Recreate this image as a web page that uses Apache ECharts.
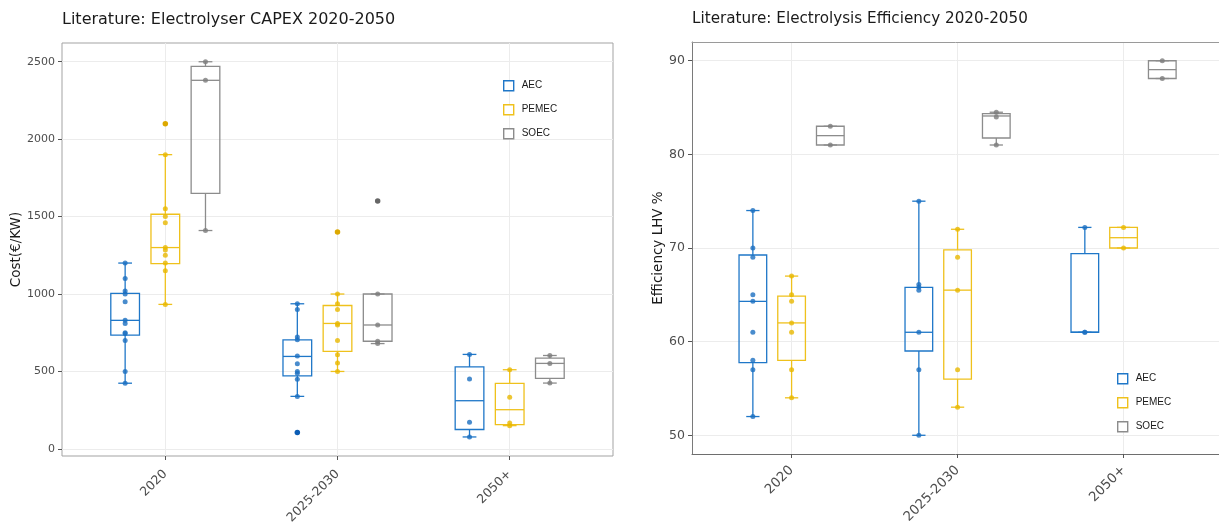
<!DOCTYPE html>
<html>
<head>
<meta charset="utf-8">
<script src="https://cdn.jsdelivr.net/npm/echarts@6/dist/echarts.min.js"></script>
<style>
  html, body { margin: 0; padding: 0; background: #fff; }
  #chart { width: 1219px; height: 528px; }
</style>
</head>
<body>
<div id="chart"></div>
<script>
// Period categories shared by both panels (placed at 1, 2, 3 on the x axis)
const categories = ['2020', '2025-2030', '2050+'];
const techs = ['AEC', 'PEMEC', 'SOEC'];

// CAPEX (€/kW) box statistics per period: [min, Q1, median, Q3, max]
const capexAECBox   = [[424, 735, 830, 1004, 1200], [339, 472, 597, 704, 937], [77, 125, 311, 529, 610]];
const capexPEMECBox = [[933, 1196, 1300, 1515, 1900], [500, 629, 810, 926, 1000], [150, 156, 253, 423, 511]];
const capexSOECBox  = [[1410, 1650, 2380, 2470, 2500], [680, 695, 800, 1000, 1000], [425, 455, 552, 586, 603]];

// CAPEX literature values per period
const capexAECPts   = [[1200, 1100, 1020, 1000, 950, 830, 810, 750, 745, 700, 500, 424], [937, 900, 722, 704, 599, 549, 500, 489, 450, 339], [610, 451, 172, 77]];
const capexPEMECPts = [[1900, 1550, 1500, 1460, 1300, 1285, 1250, 1200, 1150, 933], [1000, 937, 900, 810, 800, 700, 608, 554, 500], [511, 334, 167, 150]];
const capexSOECPts  = [[2500, 2380, 1410], [1000, 800, 695, 680], [603, 552, 425]];

// CAPEX outliers per period
const capexAECOut   = [[], [106], []];
const capexPEMECOut = [[2100], [1400], []];
const capexSOECOut  = [[], [1600], []];

// Efficiency (LHV %) box statistics per period: [min, Q1, median, Q3, max]
const effAECBox   = [[52, 57.75, 64.3, 69.25, 74], [50, 59, 61, 65.8, 75], [61, 61, 61, 69.4, 72.2]];
const effPEMECBox = [[54, 58, 62, 64.85, 67], [53, 56, 65.5, 69.8, 72], [70, 70, 71.1, 72.2, 72.2]];
const effSOECBox  = [[81, 81, 82, 83, 83], [81, 81.75, 84.1, 84.35, 84.5], [88.1, 88.1, 89.05, 90, 90]];

// Efficiency literature values per period
const effAECPts   = [[74, 70, 69, 65, 64.3, 61, 58, 57, 52], [75, 66.1, 65.8, 65.5, 61, 57, 50], [72.2, 61, 61]];
const effPEMECPts = [[67, 65, 64.3, 62, 61, 57, 54], [72, 69, 65.5, 57, 53], [72.2, 70]];
const effSOECPts  = [[83, 81], [84.5, 84, 81], [90, 88.1]];

// Axis tick values
const capexTicks = [0, 500, 1000, 1500, 2000, 2500];
const effTicks = [50, 60, 70, 80, 90];

// ---- styling ----
const lineColor  = { AEC: '#1F77C8', PEMEC: '#EFC11C', SOEC: '#8C8C8C' };
const pointColor = { AEC: '#1B6FC0', PEMEC: '#E8B800', SOEC: '#7D7D7D' };
const outColor   = { AEC: '#0B5DB5', PEMEC: '#DCA800', SOEC: '#666666' };
const dodge = { AEC: -0.2333, PEMEC: 0, SOEC: 0.2333 };
const boxHalf = 0.0833;
const capHalf = 0.04;
const boxLW = 1.3;
const tickFont = 'DejaVu Sans';

function boxRenderer(tech) {
  const off = dodge[tech];
  const col = lineColor[tech];
  return function (params, api) {
    const c = api.value(0) + off;
    const mn = api.value(1), q1 = api.value(2), md = api.value(3), q3 = api.value(4), mx = api.value(5);
    const tl = api.coord([c - boxHalf, q3]);
    const br = api.coord([c + boxHalf, q1]);
    const mL = api.coord([c - boxHalf, md]);
    const mR = api.coord([c + boxHalf, md]);
    const wTop = api.coord([c, mx]);
    const wQ3 = api.coord([c, q3]);
    const wQ1 = api.coord([c, q1]);
    const wBot = api.coord([c, mn]);
    const capTL = api.coord([c - capHalf, mx]), capTR = api.coord([c + capHalf, mx]);
    const capBL = api.coord([c - capHalf, mn]), capBR = api.coord([c + capHalf, mn]);
    const st = { stroke: col, lineWidth: boxLW, fill: null };
    const line = (a, b) => ({ type: 'line', shape: { x1: a[0], y1: a[1], x2: b[0], y2: b[1] }, style: st });
    return {
      type: 'group',
      children: [
        line(wTop, wQ3),
        line(wQ1, wBot),
        line(capTL, capTR),
        line(capBL, capBR),
        { type: 'rect', shape: { x: tl[0], y: tl[1], width: br[0] - tl[0], height: br[1] - tl[1] },
          style: { stroke: col, lineWidth: boxLW, fill: 'rgba(255,255,255,0)' } },
        line(mL, mR)
      ]
    };
  };
}

function boxSeries(tech, stats, gi) {
  return {
    type: 'custom', name: tech, xAxisIndex: gi, yAxisIndex: gi, z: 2,
    renderItem: boxRenderer(tech),
    encode: { x: 0, y: [1, 2, 3, 4, 5] },
    data: stats.map((s, i) => [i + 1].concat(s)),
    silent: true
  };
}

function pointSeries(tech, pts, gi, outlier) {
  const data = [];
  pts.forEach((arr, i) => arr.forEach(v => data.push([i + 1 + dodge[tech], v])));
  return {
    type: 'scatter', name: tech, xAxisIndex: gi, yAxisIndex: gi, z: outlier ? 4 : 3,
    symbol: 'circle', symbolSize: outlier ? 5.5 : 5,
    itemStyle: { color: outlier ? outColor[tech] : pointColor[tech], opacity: outlier ? 1 : 0.8 },
    data: data, silent: true
  };
}

function legendFor(left, top) {
  return {
    orient: 'vertical', left: left, top: top, padding: 0,
    itemWidth: 10, itemHeight: 10, itemGap: 12.6,
    selectedMode: false,
    textStyle: { fontFamily: 'Liberation Sans', fontSize: 10, color: '#1a1a1a', lineHeight: 10, padding: [0, 0, 0, 3] },
    data: techs.map(t => ({
      name: t, icon: 'rect',
      itemStyle: { color: '#ffffff', borderColor: lineColor[t], borderWidth: 1.4 }
    }))
  };
}

function xAxisFor(gi, max, fontSize, margin, lineCol) {
  return {
    type: 'value', gridIndex: gi, min: 0.4, max: max,
    axisLine: { show: !!lineCol, onZero: false, lineStyle: { color: lineCol || '#000', width: 1 } },
    axisTick: { show: true, length: 4, lineStyle: { color: '#555' }, customValues: [1, 2, 3] },
    axisLabel: {
      customValues: [1, 2, 3], rotate: 45, margin: margin,
      fontFamily: tickFont, fontSize: fontSize, color: '#4d4d4d',
      formatter: v => categories[Math.round(v) - 1]
    },
    splitLine: { show: true, lineStyle: { color: '#ececec', width: 1 } }
  };
}

function yAxisFor(gi, min, max, ticks, name, nameGap, fontSize, nameSize, lineCol) {
  return {
    type: 'value', gridIndex: gi, min: min, max: max,
    name: name, nameLocation: 'middle', nameRotate: 90, nameGap: nameGap,
    nameTextStyle: { fontFamily: tickFont, fontSize: nameSize, color: '#1a1a1a' },
    axisLine: { show: !!lineCol, onZero: false, lineStyle: { color: lineCol || '#000', width: 1 } },
    axisTick: { show: true, length: 4, lineStyle: { color: '#555' }, customValues: ticks },
    axisLabel: { customValues: ticks, margin: 7, fontFamily: tickFont, fontSize: fontSize, color: '#4d4d4d',
      formatter: v => String(v) },
    splitLine: { show: true, lineStyle: { color: '#ececec', width: 1 } }
  };
}

const chart = echarts.init(document.getElementById('chart'), null, { renderer: 'canvas' });

const series = [
  boxSeries('AEC', capexAECBox, 0), boxSeries('PEMEC', capexPEMECBox, 0), boxSeries('SOEC', capexSOECBox, 0),
  pointSeries('AEC', capexAECPts, 0), pointSeries('PEMEC', capexPEMECPts, 0), pointSeries('SOEC', capexSOECPts, 0),
  pointSeries('AEC', capexAECOut, 0, true), pointSeries('PEMEC', capexPEMECOut, 0, true), pointSeries('SOEC', capexSOECOut, 0, true),
  boxSeries('AEC', effAECBox, 1), boxSeries('PEMEC', effPEMECBox, 1), boxSeries('SOEC', effSOECBox, 1),
  pointSeries('AEC', effAECPts, 1), pointSeries('PEMEC', effPEMECPts, 1), pointSeries('SOEC', effSOECPts, 1)
];

// the efficiency panel runs past the right edge of the canvas, so its x range is cut at 3.575
const effXMax = 3.575;

const topFrame = {
  type: 'value', gridIndex: 1, position: 'top', min: 0.4, max: effXMax,
  axisLine: { show: true, onZero: false, lineStyle: { color: '#9a9a9a', width: 1 } },
  axisTick: { show: false }, axisLabel: { show: false }, splitLine: { show: false }
};

chart.setOption({
  backgroundColor: '#ffffff',
  animation: false,
  title: [
    { text: 'Literature: Electrolyser CAPEX 2020-2050', left: 62, top: 12, padding: 0,
      textStyle: { fontFamily: tickFont, fontSize: 16, fontWeight: 'normal', color: '#1a1a1a' } },
    { text: 'Literature: Electrolysis Efficiency 2020-2050', left: 692, top: 12, padding: 0,
      textStyle: { fontFamily: tickFont, fontSize: 15.2, fontWeight: 'normal', color: '#1a1a1a' } }
  ],
  legend: [legendFor(503, 80), legendFor(1117, 373)],
  grid: [
    { left: 62, top: 43, width: 551, height: 413, show: true, borderColor: '#a3a3a3', borderWidth: 1,
      backgroundColor: '#fff', outerBoundsMode: 'none', containLabel: false },
    { left: 692, top: 42, width: 527, height: 412, show: false, outerBoundsMode: 'none', containLabel: false }
  ],
  xAxis: [xAxisFor(0, 3.6, 12.5, 16), xAxisFor(1, effXMax, 13.3, 14, '#6e6e6e'), topFrame],
  yAxis: [
    yAxisFor(0, -46, 2621, capexTicks, 'Cost(€/KW)', 36, 11, 13.5),
    yAxisFor(1, 48, 92, effTicks, 'Efficiency LHV %', 27, 12.5, 13.5, '#7a7a7a')
  ],
  series: series
});
</script>
</body>
</html>
